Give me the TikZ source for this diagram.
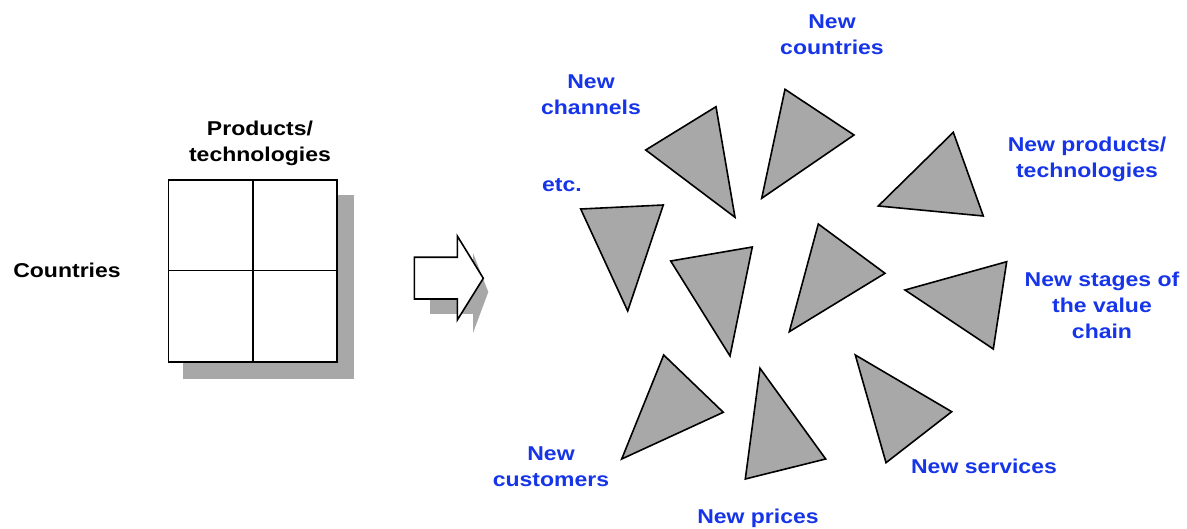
\documentclass[tikz,border=0pt]{standalone}
\usepackage{fontspec}
\setsansfont{Liberation Sans}[FakeStretch=1.15]
\definecolor{lblblue}{RGB}{22,52,232}
\definecolor{boxgray}{RGB}{168,168,168}
\tikzset{
  lbl/.style={font=\sffamily\bfseries\fontsize{20}{26}\selectfont, align=center, inner sep=0pt},
  newlbl/.style={lbl, text=lblblue},
  wedge/.style={draw=black, fill=boxgray, line width=1.6pt, line join=miter},
}
\begin{document}
\begin{tikzpicture}[x=1pt,y=-1pt]
\useasboundingbox (0.000000,0.000000) rectangle (1187.000000,529.000000);
% Drawing the matrix
\fill[boxgray] (183.300000,195.000000) rectangle (354.000000,379.000000);
\draw[fill=white,line width=1.6pt] (168.300000,180.000000) rectangle (336.700000,362.300000);
\draw[line width=1.6pt] (252.700000,180.000000) -- (252.700000,362.300000);
\draw[line width=1.6pt] (168.300000,270.700000) -- (336.700000,270.700000);
\node[lbl] (prodtech) at (260.000000,143.000000) {Products/\\technologies};
\node[lbl] (countries) at (67.000000,270.000000) {Countries};
% Drawing the block arrow
\fill[boxgray] (430.000000,274.000000) -- (473.000000,274.000000) -- (473.000000,253.000000) -- (488.300000,292.000000) -- (473.000000,333.000000) -- (473.000000,314.000000) -- (430.000000,314.000000) -- cycle;
\draw[fill=white,line width=1.6pt] (414.300000,257.300000) -- (457.300000,257.300000) -- (457.300000,236.000000) -- (483.300000,278.300000) -- (457.300000,320.000000) -- (457.300000,299.000000) -- (414.300000,299.000000) -- cycle;
% Drawing triangles
% Row 1
\draw[wedge] (645.700000,150.000000) -- (716.000000,106.700000) -- (735.000000,217.300000) -- cycle;
\draw[wedge] (785.000000,89.300000) -- (854.000000,135.000000) -- (761.700000,198.300000) -- cycle;
\draw[wedge] (953.300000,132.300000) -- (983.300000,216.000000) -- (878.300000,206.000000) -- cycle;
% Row 2
\draw[wedge] (580.700000,209.000000) -- (663.300000,205.000000) -- (627.700000,311.000000) -- cycle;
\draw[wedge] (670.700000,261.000000) -- (752.300000,247.000000) -- (730.000000,356.000000) -- cycle;
\draw[wedge] (818.300000,224.000000) -- (885.000000,273.300000) -- (789.300000,331.700000) -- cycle;
\draw[wedge] (905.000000,290.000000) -- (1006.700000,261.700000) -- (993.300000,349.000000) -- cycle;
% Row 3
\draw[wedge] (663.700000,355.000000) -- (723.300000,412.300000) -- (621.700000,459.000000) -- cycle;
\draw[wedge] (760.000000,368.300000) -- (825.700000,459.000000) -- (745.300000,479.000000) -- cycle;
\draw[wedge] (855.300000,355.000000) -- (951.700000,411.700000) -- (886.000000,462.700000) -- cycle;
% Drawing labels
\node[newlbl] (newcountries) at (832.000000,35.000000) {New\\countries};
\node[newlbl] (newchannels) at (591.000000,95.000000) {New\\channels};
\node[newlbl] (etc) at (562.000000,185.000000) {etc.};
\node[newlbl] (newproducts) at (1087.000000,159.000000) {New products/\\technologies};
\node[newlbl] (newstages) at (1102.000000,305.000000) {New stages of\\the value\\chain};
\node[newlbl] (newservices) at (984.000000,466.000000) {New services};
\node[newlbl] (newcustomers) at (551.000000,467.000000) {New\\customers};
\node[newlbl] (newprices) at (758.000000,518.000000) {New prices};
\end{tikzpicture}
\end{document}
